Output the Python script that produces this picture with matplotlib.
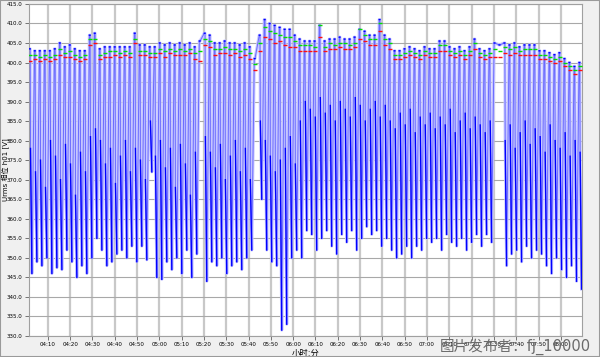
import numpy as np
import matplotlib
matplotlib.use("Agg")
import matplotlib.pyplot as plt
from matplotlib.patches import Rectangle

plt.rcParams['font.family'] = ['DejaVu Sans', 'Noto Sans CJK SC']

# one entry per voltage cycle (start time in minutes after 00:00, cycle period in minutes)
t_start = 242.0
period = 2.24

top_blue = [403.5, 403, 403, 403, 403, 403.5, 405, 404, 404.5, 403.5,
            403, 403, 407, 407.5, 403.5, 404, 404, 404, 404, 404,
            404, 407.5, 404.5, 404.5, 404, 404, 405, 404.5, 405, 404.5,
            405, 404.5, 405, 404, 405.5, 407.5, 407, 405, 405, 405.5,
            405, 405, 404.5, 405, 404, 401, 407, 411, 410, 409.5,
            409, 408.5, 408.5, 407, 406, 405.5, 405.5, 405.5, 409.5, 405.5,
            406, 406, 406.5, 406, 406, 406.5, 408.5, 408, 407, 407,
            411, 407, 406, 403, 403, 403.5, 404, 403.5, 403, 404,
            403.5, 403.5, 405.5, 405.5, 404, 403.5, 404, 403, 404, 406,
            403.5, 403, 403.5, 405, 404.5, 405, 404.5, 405, 404, 404.5,
            404.5, 404.5, 403, 403, 402.5, 402, 402.5, 401, 400, 399, 400]

top_green = [402, 402, 401.5, 402, 401.5, 402, 403.5, 402.5, 403, 402,
             401.5, 402, 406, 406, 402, 402.5, 403, 403, 402.5, 403,
             402.5, 406, 403, 403, 402.5, 402.5, 403.5, 403, 403.5, 403,
             403.5, 403, 403.5, 402.5, 403, 406, 405.5, 403.5, 403.5, 404,
             403.5, 403.5, 403, 403.5, 402.5, 399.5, 405, 409, 408, 407.5,
             407, 406.5, 406.5, 405.5, 404.5, 404.5, 404.5, 404, 409.5, 404,
             405, 404.5, 405, 405, 404.5, 405, 408.5, 407, 406, 406,
             410, 406, 405, 402, 402, 402.5, 403, 402.5, 402, 403,
             402.5, 402.5, 404.5, 404.5, 403, 402.5, 403, 402, 403, 405,
             402.5, 402, 402.5, 403.5, 403, 404, 403.5, 404, 403, 403.5,
             403.5, 403.5, 402, 402, 401.5, 401, 401.5, 400, 399, 398, 399]

top_red = [400.5, 401, 400.5, 401, 400.5, 401, 402, 401.5, 401.5, 401,
           400.5, 401, 404.5, 405, 401, 401.5, 401.5, 402, 401.5, 402,
           401.5, 405, 402, 402, 401.5, 401.5, 402.5, 401.5, 402.5, 402,
           402, 402, 402.5, 401, 400.5, 404.5, 404, 402, 402.5, 402.5,
           402, 402.5, 401.5, 402, 401, 398, 403, 406.5, 406, 405,
           405.5, 404.5, 404, 404, 403, 403, 403, 403, 406.5, 403,
           403.5, 403.5, 404, 403.5, 403.5, 404, 406, 405.5, 404.5, 404.5,
           408, 404.5, 403.5, 401, 401, 401.5, 402, 401.5, 401, 402,
           401.5, 401.5, 403, 403, 402, 401.5, 402, 401, 402, 403.5,
           401.5, 401, 401.5, 401.5, 401.5, 402.5, 402, 402.5, 402, 402,
           402, 402, 401, 401, 400.5, 400, 400.5, 399, 398, 397, 398]

# value where the slow part of the dip starts, and the bottom of the dip (None = no dip)
knee = [378, 372, 375, 368, 380, 376, 370, 379, 374, 366,
        377, 372, 381, 383, 380, 374, 378, 369, 376, 380,
        372, 378, 375, 370, 385, 376, 380, 373, 378, 368,
        379, 374, 366, 377, 403, 381, 377, 373, 379, 370,
        376, 380, 372, 378, 370, 400, 385, 380, 376, 372,
        375, 378, 381, 374, 385, 390, 388, 386, 391, 387,
        389, 385, 390, 388, 386, 391, 389, 385, 388, 390,
        386, 389, 385, 383, 387, 384, 388, 382, 386, 384,
        387, 383, 386, 384, 388, 382, 385, 387, 383, 386,
        384, 382, 385, 400, 400, 380, 384, 378, 382, 385,
        379, 383, 381, 377, 384, 380, 378, 382, 376, 380, 377]

low = [346, 349, 348, 350, 346, 347.5, 347, 352, 349, 345,
       348, 346, 350, 355, 352, 348, 349, 351, 352, 350,
       353, 349, 353, 349.5, 372, 345, 344.5, 349, 347, 350,
       346, 352, 345, 351, None, 344, 349, 348, 350, 346,
       348, 349, 347, 350, 352, None, 365, 352, 349, 348,
       331.5, 333, 350, 352, 350, 357, 356, 352, 355, 357,
       353, 351, 356, 354, 357, 352, 355, 358, 356, 357,
       353, 355, 352, 350, 351, 353, 350, 353, 352, 355,
       354, 355, 352, 356, 354, 353, 355, 352, 354, 356,
       353, 356, 354, None, None, 348, 351, 352, 349, 353,
       350, 352, 351, 348, 346, 350, 347, 345, 348, 344, 342]

x_ticks = list(range(250, 481, 10))
y_ticks = list(range(330, 416, 5))


def trace(tops):
    xs, ys = [], []
    for i, top in enumerate(tops):
        t = t_start + i * period
        xs += [t - 0.1 * period, t + 0.05 * period]
        ys += [top, top]
        if low[i] is None:
            continue
        xs += [t + 0.12 * period, t + 0.4 * period]
        ys += [knee[i], low[i]]
    return xs, ys


def dark_part():
    xs, ys = [], []
    for i in range(len(low)):
        t = t_start + i * period
        xs += [t - 0.1 * period, t + 0.05 * period, np.nan]
        ys += [top_blue[i], top_blue[i], np.nan]
        if low[i] is None:
            continue
        xs += [t + 0.12 * period, t + 0.4 * period, np.nan]
        ys += [knee[i], low[i], np.nan]
    return xs, ys


cycle_t = [t_start + i * period for i in range(len(top_blue))]

fig = plt.figure(figsize=(6, 3.57), dpi=100, facecolor='#f0f0f0')
ax = fig.add_axes([0.048, 0.059, 0.922, 0.930])
ax.set_facecolor('white')

xb, yb = trace(top_blue)
xd, yd = dark_part()
ax.plot(xb, yb, color='#c6c6ff', lw=2.2, zorder=2)
ax.plot(xb, yb, color='#6a6aff', lw=0.7, zorder=3)
ax.plot(xd, yd, color='#0000ff', lw=1.0, zorder=4)
ax.plot(cycle_t, top_red, ls='none', marker='_', ms=2.2, mew=1.0,
        color='#ff1010', zorder=5)
ax.plot(cycle_t, top_green, ls='none', marker='_', ms=2.4, mew=1.0,
        color='#00dd00', zorder=6)

ax.set_xlim(241.5, 489.5)
ax.set_ylim(330, 415)
ax.set_xticks(x_ticks)
ax.set_xticklabels(['%02d:%02d' % (m // 60, m % 60) for m in x_ticks])
ax.set_yticks(y_ticks)
ax.set_yticklabels(['%.1f' % v for v in y_ticks])
ax.tick_params(labelsize=4, length=3, width=0.6, color='#606060', pad=1.5)
ax.grid(axis='x', color='#c8c8c8', lw=1.6, zorder=0)
ax.grid(axis='y', color='#a8a8a8', lw=0.8, zorder=0)
ax.set_axisbelow(True)
for s in ax.spines.values():
    s.set_color('#a0a0a0')
    s.set_linewidth(0.8)

ax.set_xlabel('小时:分', fontsize=6, labelpad=1)
ax.set_ylabel('Urms 相位 h01 [V]', fontsize=5)
ax.yaxis.set_label_coords(-0.036, 0.5)

fig.patches.append(Rectangle((0, 0), 1, 1, transform=fig.transFigure,
                             fill=False, edgecolor='#9a9a9a', lw=1.5))
fig.text(0.985, 0.028, '图片发布者：fj_10000', ha='right', va='center',
         fontsize=10.5, color='#6a6a6a')

fig.savefig('out.png', dpi=100, facecolor=fig.get_facecolor())
